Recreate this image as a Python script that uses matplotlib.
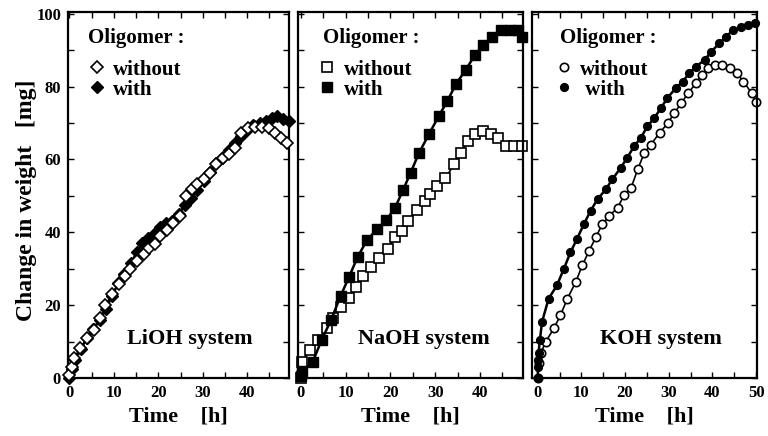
import matplotlib
matplotlib.use("Agg")
import matplotlib.pyplot as plt
from matplotlib.lines import Line2D
from matplotlib.ticker import MultipleLocator

plt.rcParams["font.family"] = ["Liberation Serif", "DejaVu Serif"]
plt.rcParams["font.weight"] = "bold"

# LiOH system
li_wo_t = [0, 0.6, 1.0, 2.5, 4.0, 5.5, 7.0, 8.1, 9.6, 11.1, 12.6, 13.7, 15.2, 16.7, 18.0,
           19.3, 20.4, 21.9, 23.4, 24.8, 26.3, 27.6, 28.8, 30.2, 31.7, 33.0, 34.5, 36.0,
           37.3, 38.5, 40.2, 41.8, 43.3, 44.8, 46.2, 47.5, 49.0]
li_wo_y = [0.8, 3.1, 5.5, 8.2, 10.9, 13.1, 16.4, 20.0, 23.0, 25.9, 28.1, 30.0, 32.2, 34.1, 35.8,
           36.9, 39.1, 40.7, 42.6, 44.5, 50.0, 51.9, 53.3, 54.6, 56.3, 58.7, 60.4, 61.5,
           63.1, 67.2, 68.6, 68.8, 68.8, 68.6, 67.2, 65.8, 64.6]
li_w_t = [0, 0.6, 1.2, 2.6, 4.0, 5.4, 6.8, 8.2, 9.6, 11.0, 12.4, 13.8, 15.2, 16.4, 17.8, 19.0,
          20.4, 21.8, 23.2, 24.6, 26.0, 27.4, 28.8, 30.2, 31.6, 33.0, 34.4, 35.8, 37.2, 38.6,
          40.0, 41.4, 42.8, 44.2, 45.6, 46.8, 48.0, 49.3]
li_w_y = [0.0, 2.5, 5.0, 8.0, 11.0, 13.5, 16.0, 19.0, 22.5, 26.0, 28.5, 31.5, 34.5, 37.0, 38.5, 39.5,
          41.5, 42.5, 43.0, 45.0, 47.5, 49.5, 51.5, 54.0, 56.5, 59.0, 60.5, 62.5, 64.5, 66.5,
          68.0, 69.5, 70.0, 70.5, 71.5, 72.0, 71.0, 70.5]

# NaOH system
na_wo_t = [0, 0.3, 2.0, 3.9, 5.9, 7.3, 8.9, 10.7, 12.3, 13.9, 15.7, 17.5, 19.5, 21.0, 22.5, 24.0,
           25.9, 27.7, 28.9, 30.5, 32.3, 34.3, 35.7, 37.3, 38.9, 40.7, 42.5, 44.0, 45.7,
           47.5, 49.3]
na_wo_y = [0.0, 4.4, 7.7, 10.4, 13.7, 16.4, 19.4, 22.0, 24.9, 28.0, 30.4, 33.0, 35.5, 38.6, 40.4, 43.2,
           46.0, 48.6, 50.5, 52.7, 55.0, 58.7, 61.8, 65.0, 66.9, 67.8, 66.9, 65.9, 63.7,
           63.7, 63.7]
na_w_t = [0, 0.4, 2.7, 4.7, 6.8, 8.9, 10.8, 12.7, 14.8, 17.0, 19.1, 21.0, 22.8, 24.5, 26.4,
          28.6, 30.8, 32.7, 34.6, 36.8, 38.9, 40.7, 42.6, 44.8, 46.8, 48.4, 49.4]
na_w_y = [0.5, 2.0, 4.5, 10.5, 16.0, 22.5, 27.8, 33.2, 37.9, 40.8, 43.4, 46.6, 51.5, 56.3, 61.8,
          66.9, 71.9, 76.0, 80.6, 84.6, 88.7, 91.4, 93.7, 95.6, 95.6, 95.6, 93.7]

# KOH system
k_wo_t = [0, 0.3, 0.8, 1.8, 3.7, 5.2, 6.8, 8.7, 10.2, 11.8, 13.3, 14.8, 16.4, 18.3, 19.8, 21.4,
          22.9, 24.4, 25.9, 27.9, 29.8, 31.3, 32.9, 34.4, 36.3, 37.5, 39.0, 40.6, 42.1, 44.0,
          45.6, 47.1, 49.0, 50.0]
k_wo_y = [0, 4.0, 7.0, 9.9, 13.6, 17.2, 21.8, 26.3, 30.9, 35.0, 38.6, 42.3, 44.5, 46.8, 50.2, 52.3,
          57.3, 61.8, 64.1, 67.3, 70.0, 72.8, 75.5, 78.2, 81.0, 83.2, 85.0, 86.0, 86.0, 85.0,
          83.7, 81.4, 78.2, 75.8]
k_w_t = [0, 0.05, 0.1, 0.2, 0.5, 1.0, 2.5, 4.4, 6.0, 7.5, 9.0, 10.6, 12.1, 13.7, 15.6, 17.1,
         19.0, 20.5, 22.1, 23.6, 25.1, 26.7, 28.2, 29.7, 31.6, 33.2, 34.7, 36.2, 38.2, 39.7,
         41.6, 43.1, 44.7, 46.6, 48.1, 49.7]
k_w_y = [0, 3.0, 5.0, 7.0, 10.4, 15.4, 21.8, 25.4, 30.0, 34.5, 38.2, 42.3, 45.9, 49.1, 51.8, 54.6,
         57.7, 60.5, 63.7, 65.9, 69.1, 71.4, 74.1, 76.9, 79.6, 81.4, 83.7, 85.5, 87.3, 89.6,
         91.9, 93.7, 95.5, 96.4, 96.9, 97.4]

panels = [
    dict(name="LiOH system", marker="D", ms=6.2, ms_w=6.2, wo=(li_wo_t, li_wo_y), w=(li_w_t, li_w_y),
         wo_top=True, xlim=(-0.3, 49.4), rect=[68, 289], leg_x=0.09, mk_x=0.127, lab_x=0.552),
    dict(name="NaOH system", marker="s", ms=7.4, ms_w=7.4, wo=(na_wo_t, na_wo_y), w=(na_w_t, na_w_y),
         wo_top=False, xlim=(-0.6, 49.6), rect=[298, 523], leg_x=0.111, mk_x=0.129, lab_x=0.56),
    dict(name="KOH system", marker="o", ms=6.0, ms_w=5.6, wo=(k_wo_t, k_wo_y), w=(k_w_t, k_w_y),
         wo_top=False, xlim=(-1.3, 50.2), rect=[532, 757], leg_x=0.124, mk_x=0.138, lab_x=0.573),
]

W, H = 768, 436
fig = plt.figure(figsize=(W / 100, H / 100), dpi=100)
top, bottom = 12, 378

for i, p in enumerate(panels):
    x0, x1 = p["rect"]
    ax = fig.add_axes([x0 / W, (H - bottom) / H, (x1 - x0) / W, (bottom - top) / H])
    z_wo, z_w = (3, 2) if p["wo_top"] else (2, 3)
    ax.plot(*p["wo"], color="black", lw=1.2, marker=p["marker"], ms=p["ms"],
            mfc="white", mec="black", mew=1.2, clip_on=False, zorder=z_wo)
    ax.plot(*p["w"], color="black", lw=1.8, marker=p["marker"], ms=p["ms_w"],
            mfc="black", mec="black", mew=1.0, clip_on=False, zorder=z_w)

    ax.set_xlim(*p["xlim"])
    ax.set_ylim(0, 100.5)
    ax.xaxis.set_major_locator(MultipleLocator(10))
    ax.xaxis.set_minor_locator(MultipleLocator(5))
    ax.yaxis.set_major_locator(MultipleLocator(20))
    ax.yaxis.set_minor_locator(MultipleLocator(10))
    ax.tick_params(which="both", direction="in", top=True, right=True,
                   length=4, width=1.0, labelsize=12, pad=5)
    if i > 0:
        ax.tick_params(labelleft=False)
    for s in ax.spines.values():
        s.set_linewidth(1.6)
    for lbl in ax.get_xticklabels() + ax.get_yticklabels():
        lbl.set_fontweight("bold")

    ax.set_xlabel("Time    [h]", fontsize=16, fontweight="bold", labelpad=4)

    ax.text(p["leg_x"], 0.915, "Oligomer :", transform=ax.transAxes,
            fontsize=15, fontweight="bold", va="baseline", ha="left")
    handles = [
        Line2D([], [], ls="none", marker=p["marker"], ms=p["ms"], mfc="white",
               mec="black", mew=1.2, color="black"),
        Line2D([], [], ls="none", marker=p["marker"], ms=p["ms_w"], mfc="black",
               mec="black", color="black"),
    ]
    labels = ["without", "with"] if i < 2 else ["without", " with"]
    ax.legend(handles, labels, loc="upper left",
              bbox_to_anchor=(p["mk_x"] - 0.035, 0.87), frameon=False,
              prop=dict(size=15, weight="bold"), handlelength=0.8,
              handletextpad=0.4, labelspacing=0.0, borderpad=0, borderaxespad=0)

    ax.text(p["lab_x"], 0.093, p["name"], transform=ax.transAxes,
            fontsize=16, fontweight="bold", ha="center", va="baseline")

fig.text(27 / W, 1 - 200 / H, "Change in weight   [mg]", rotation=90,
         fontsize=17, fontweight="bold", ha="center", va="center")

fig.savefig("out.png", dpi=100)
